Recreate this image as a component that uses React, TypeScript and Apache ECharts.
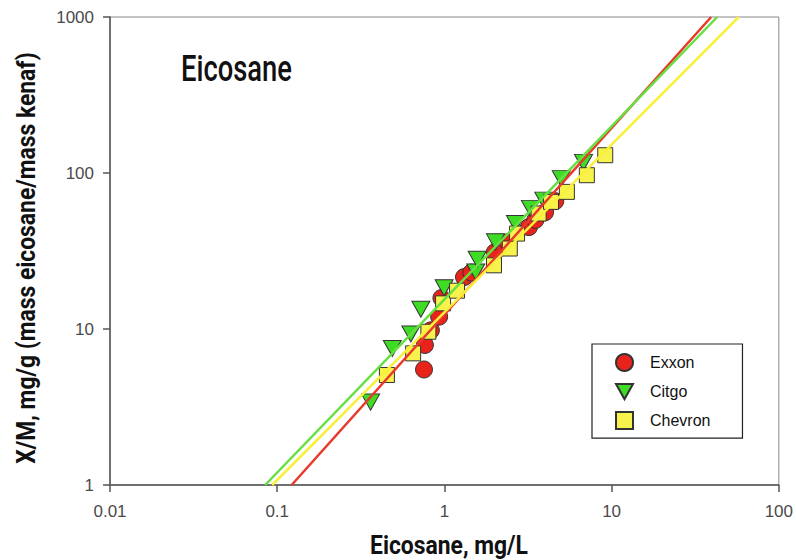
import React, { useEffect, useRef } from "react";
import * as echarts from "echarts";

// Eicosane adsorption isotherm data: [Ce (mg/L), X/M (mg/g)]
const exxon: number[][] = [
  [0.755, 5.5], [0.764, 7.9], [0.83, 9.8], [0.93, 12.0], [0.96, 15.8],
  [1.31, 21.5], [1.45, 23.0], [2.0, 31.0], [2.4, 36.0], [3.2, 45.0],
  [3.5, 50.0], [4.0, 56.0], [4.6, 66.0],
];
const citgo: number[][] = [
  [0.362, 3.4], [0.488, 7.5], [0.63, 9.3], [0.723, 13.4], [0.996, 18.4],
  [1.54, 23.2], [1.57, 28.0], [2.02, 36.2], [2.66, 47.5], [3.27, 59.3],
  [3.93, 67.0], [5.0, 92.0], [6.79, 117.0],
];
const chevron: number[][] = [
  [0.453, 5.07], [0.65, 6.98], [0.802, 9.6], [0.982, 14.6], [1.19, 17.6],
  [1.98, 25.6], [2.46, 32.8], [2.72, 40.9], [3.66, 55.0], [4.34, 65.3],
  [5.4, 75.7], [7.11, 96.8], [9.16, 130.0],
];
// Freundlich fit lines (end points at the plot edges)
const exxonFit: number[][] = [[0.122, 1], [39.4, 1000]];
const citgoFit: number[][] = [[0.0847, 1], [42.8, 1000]];
const chevronFit: number[][] = [[0.0933, 1], [57.6, 1000]];

const seriesNames = ["Exxon", "Citgo", "Chevron"];
const xTickLabels = ["0.01", "0.1", "1", "10", "100"];
const yTickLabels = ["1", "10", "100", "1000"];
const xRange = [0.01, 100];
const yRange = [1, 1000];

const RED = "#e8231c";
const GREEN = "#3fdc26";
const YELLOW = "#f8f34c";
const DOWN_TRIANGLE = "path://M0 0L18 0L9 16Z";

function tickLabel(labels: string[], v: number) {
  const idx = labels.findIndex((l) => Math.abs(Math.log10(parseFloat(l)) - Math.log10(v)) < 1e-6);
  return idx >= 0 ? labels[idx] : "";
}

export default function App() {
  const ref = useRef<HTMLDivElement>(null);
  useEffect(() => {
    const chart = echarts.init(ref.current!, null, { renderer: "svg" });
    const axisCommon = {
      type: "log" as const,
      logBase: 10,
      axisLine: { show: true, onZero: false, lineStyle: { color: "#555", width: 1.5 } },
      axisTick: { show: true, inside: false, length: 7, lineStyle: { color: "#555", width: 1.5 } },
      minorTick: { show: false },
      splitLine: { show: false },
    };
    const labelStyle = { fontSize: 17, color: "#4a4a4a", fontFamily: "'Liberation Sans', Arial, sans-serif" };
    chart.setOption({
      animation: false,
      backgroundColor: "#ffffff",
      grid: { left: 110, right: 15, top: 17, bottom: 75, show: true, borderColor: "#888", borderWidth: 1 },
      xAxis: {
        ...axisCommon, min: xRange[0], max: xRange[1],
        axisLabel: { ...labelStyle, margin: 18, formatter: (v: number) => tickLabel(xTickLabels, v) },
      },
      yAxis: {
        ...axisCommon, min: yRange[0], max: yRange[1],
        axisLabel: { ...labelStyle, margin: 16, formatter: (v: number) => tickLabel(yTickLabels, v) },
      },
      legend: {
        data: seriesNames,
        orient: "vertical",
        left: 592,
        top: 344,
        padding: [9, 32, 8, 23],
        itemWidth: 17,
        itemHeight: 17,
        itemGap: 11,
        borderColor: "#222",
        borderWidth: 1.2,
        backgroundColor: "#fff",
        borderRadius: 0,
        textStyle: { fontSize: 16, color: "#111", fontFamily: "'Liberation Sans', Arial, sans-serif", padding: [0, 0, 0, 12] },
      },
      graphic: [
        {
          type: "text",
          x: 181,
          y: 50,
          scaleX: 0.74,
          style: { text: "Eicosane", font: "500 37px Roboto", fill: "#111", textAlign: "left", textVerticalAlign: "top" },
        },
        {
          type: "text",
          x: 449,
          y: 545,
          scaleX: 0.88,
          style: { text: "Eicosane, mg/L", font: "bold 26px Roboto", fill: "#111", textAlign: "center", textVerticalAlign: "middle" },
        },
        {
          type: "text",
          x: 26,
          y: 258,
          rotation: Math.PI / 2,
          scaleX: 0.88,
          style: { text: "X/M, mg/g (mass eicosane/mass kenaf)", font: "bold 26px Roboto", fill: "#111", textAlign: "center", textVerticalAlign: "middle" },
        },
      ],
      series: [
        { name: "Exxon fit", type: "line", data: exxonFit, showSymbol: false, lineStyle: { color: "#e8392c", width: 2.5 }, silent: true },
        { name: "Citgo fit", type: "line", data: citgoFit, showSymbol: false, lineStyle: { color: "#66e040", width: 2.5 }, silent: true },
        { name: "Chevron fit", type: "line", data: chevronFit, showSymbol: false, lineStyle: { color: "#f8f03c", width: 2.5 }, silent: true },
        {
          name: seriesNames[0], type: "scatter", data: exxon, symbol: "circle", symbolSize: 17,
          itemStyle: { color: RED, borderColor: "#333", borderWidth: 1, opacity: 1 },
        },
        {
          name: seriesNames[1], type: "scatter", data: citgo, symbol: DOWN_TRIANGLE, symbolSize: [18, 16],
          itemStyle: { color: GREEN, borderColor: "#333", borderWidth: 1, opacity: 1 },
        },
        {
          name: seriesNames[2], type: "scatter", data: chevron, symbol: "rect", symbolSize: 15,
          itemStyle: { color: YELLOW, borderColor: "#333", borderWidth: 1, opacity: 1 },
        },
      ],
    });
    return () => chart.dispose();
  }, []);
  return <div ref={ref} style={{ position: "absolute", left: 0, top: 0, width: 796, height: 560 }} />;
}
